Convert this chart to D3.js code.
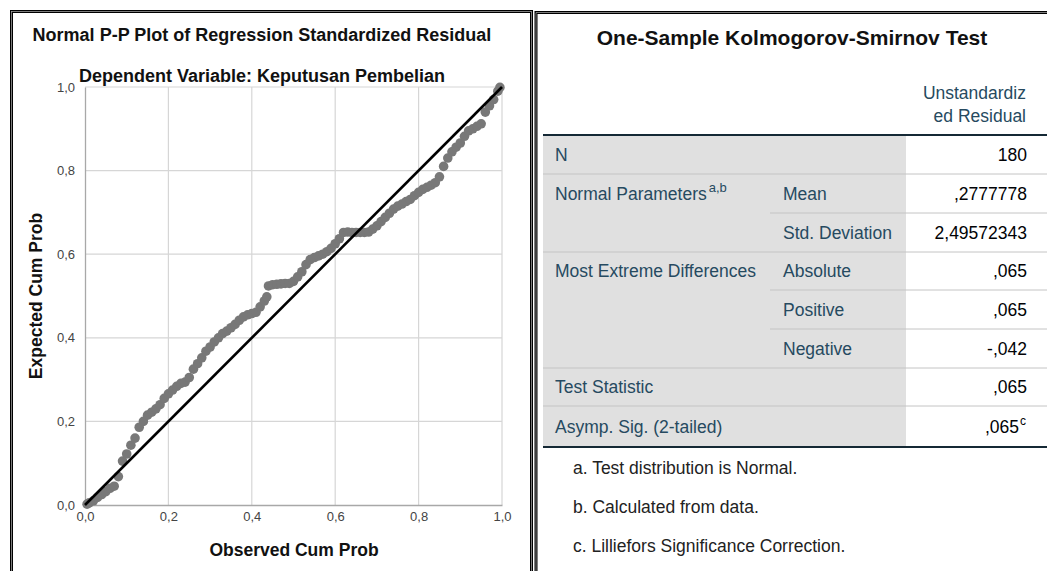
<!DOCTYPE html>
<html>
<head>
<meta charset="utf-8">
<script src="https://cdn.jsdelivr.net/npm/d3@7"></script>
<style>
  body { margin: 0; background: #fff; }
  svg { display: block; font-family: "Liberation Sans", Arial, sans-serif; }
</style>
</head>
<body>
<svg id="chart" width="1047" height="571"></svg>
<script>
// ---- P-P plot data ----
const observedProb = [0.005, 0.01, 0.02, 0.03, 0.04, 0.05, 0.06, 0.07, 0.08, 0.09, 0.10,
  0.11, 0.12, 0.13, 0.14, 0.15, 0.16, 0.17, 0.18, 0.19, 0.20,
  0.21, 0.22, 0.23, 0.24, 0.25, 0.26, 0.27, 0.28, 0.29, 0.30,
  0.31, 0.32, 0.33, 0.34, 0.35, 0.36, 0.37, 0.38, 0.39, 0.40,
  0.41, 0.42, 0.43, 0.436, 0.44, 0.45, 0.46, 0.47, 0.48, 0.49, 0.50,
  0.51, 0.52, 0.53, 0.54, 0.55, 0.56, 0.57, 0.58, 0.59, 0.60,
  0.61, 0.62, 0.63, 0.64, 0.65, 0.66, 0.67, 0.68, 0.69, 0.70,
  0.71, 0.72, 0.73, 0.74, 0.75, 0.76, 0.77, 0.78, 0.79, 0.80,
  0.81, 0.82, 0.83, 0.84, 0.85, 0.86, 0.87, 0.88, 0.89, 0.90,
  0.91, 0.92, 0.93, 0.94, 0.95, 0.96, 0.97, 0.98, 0.99, 0.995];
const expectedProb = [0.002, 0.005, 0.01, 0.018, 0.025, 0.032, 0.04, 0.045, 0.068, 0.105, 0.122,
  0.143, 0.16, 0.186, 0.2, 0.215, 0.222, 0.23, 0.24, 0.255, 0.266,
  0.275, 0.284, 0.291, 0.294, 0.305, 0.325, 0.338, 0.352, 0.368, 0.378,
  0.39, 0.4, 0.41, 0.416, 0.424, 0.432, 0.442, 0.45, 0.455, 0.458,
  0.461, 0.474, 0.488, 0.498, 0.524, 0.527, 0.528, 0.529, 0.53, 0.53, 0.535,
  0.546, 0.558, 0.575, 0.587, 0.592, 0.596, 0.6, 0.606, 0.614, 0.625,
  0.637, 0.652, 0.653, 0.652, 0.652, 0.652, 0.652, 0.653, 0.66, 0.668,
  0.678, 0.688, 0.698, 0.708, 0.715, 0.72, 0.726, 0.731, 0.74, 0.748,
  0.755, 0.76, 0.765, 0.771, 0.785, 0.81, 0.83, 0.845, 0.856, 0.866,
  0.882, 0.895, 0.9, 0.906, 0.912, 0.94, 0.955, 0.97, 0.99, 0.999];
const tickValues = [0, 0.2, 0.4, 0.6, 0.8, 1.0];

// ---- K-S test table ----
const tableTitle = "One-Sample Kolmogorov-Smirnov Test";
const columnHeader = ["Unstandardiz", "ed Residual"];
const rowLabels = ["N", "Normal Parameters", "", "Most Extreme Differences", "", "", "Test Statistic", "Asymp. Sig. (2-tailed)"];
const rowLabelSup = ["", "a,b", "", "", "", "", "", ""];
const subLabels = ["", "Mean", "Std. Deviation", "Absolute", "Positive", "Negative", "", ""];
const cellValues = ["180", ",2777778", "2,49572343", ",065", ",065", "-,042", ",065", ",065"];
const cellSup = ["", "", "", "", "", "", "", "c"];
const footnotes = ["a. Test distribution is Normal.", "b. Calculated from data.", "c. Lilliefors Significance Correction."];

const svg = d3.select("#chart");

// ---------- left panel ----------
svg.append("rect").attr("x", 11.5).attr("y", 11.5).attr("width", 520).attr("height", 620)
  .attr("fill", "none").attr("stroke", "#000").attr("stroke-width", 3);
svg.append("rect").attr("x", 11.5).attr("y", 11.5).attr("width", 520).attr("height", 620)
  .attr("fill", "none").attr("stroke", "#999").attr("stroke-width", 0.8);

const x = d3.scaleLinear().domain([0, 1]).range([85, 502]);
const y = d3.scaleLinear().domain([0, 1]).range([505, 87]);
const fmt = d3.formatLocale({decimal: ",", thousands: ".", grouping: [3], currency: ["", ""]}).format(".1f");

const plot = svg.append("g");

// grid
plot.selectAll(".gx").data(tickValues.slice(1)).join("line")
  .attr("x1", d => x(d)).attr("x2", d => x(d)).attr("y1", y(0)).attr("y2", y(1))
  .attr("stroke", "#d6d6d6").attr("stroke-width", 1.2);
plot.selectAll(".gy").data(tickValues.slice(1)).join("line")
  .attr("x1", x(0)).attr("x2", x(1)).attr("y1", d => y(d)).attr("y2", d => y(d))
  .attr("stroke", "#d6d6d6").attr("stroke-width", 1.2);

// axes
const xAxis = plot.append("g").attr("transform", `translate(0,${y(0)})`)
  .call(d3.axisBottom(x).tickValues(tickValues).tickFormat(fmt).tickSize(0).tickPadding(7));
const yAxis = plot.append("g").attr("transform", `translate(${x(0)},0)`)
  .call(d3.axisLeft(y).tickValues(tickValues).tickFormat(fmt).tickSize(0).tickPadding(10));
[xAxis, yAxis].forEach(a => {
  a.attr("font-size", null).attr("font-family", null);
  a.select(".domain").attr("stroke", "#a8a8a8").attr("stroke-width", 1.3);
  a.selectAll("text").style("font-size", "13px").style("font-family", "Liberation Sans, Arial, sans-serif")
    .attr("fill", "#444");
});

// points
const pts = observedProb.map((o, i) => ({o: o, e: expectedProb[i]}));
plot.selectAll(".pt").data(pts).join("circle")
  .attr("cx", d => x(d.o)).attr("cy", d => y(d.e)).attr("r", 4.8)
  .attr("fill", "#787878");

// reference line
plot.append("line")
  .attr("x1", x(0)).attr("y1", y(0)).attr("x2", x(1)).attr("y2", y(1))
  .attr("stroke", "#000").attr("stroke-width", 2.6);

// titles
svg.append("text").attr("x", 262).attr("y", 41).attr("text-anchor", "middle")
  .attr("font-size", 18).attr("font-weight", "bold").attr("fill", "#111")
  .text("Normal P-P Plot of Regression Standardized Residual");
svg.append("text").attr("x", 262).attr("y", 82).attr("text-anchor", "middle")
  .attr("font-size", 18).attr("font-weight", "bold").attr("fill", "#111")
  .text("Dependent Variable: Keputusan Pembelian");
svg.append("text").attr("x", 294).attr("y", 556).attr("text-anchor", "middle")
  .attr("font-size", 17.5).attr("font-weight", "bold").attr("fill", "#111")
  .text("Observed Cum Prob");
svg.append("text").attr("transform", "translate(42,296) rotate(-90)").attr("text-anchor", "middle")
  .attr("font-size", 17.5).attr("font-weight", "bold").attr("fill", "#111")
  .text("Expected Cum Prob");

// ---------- right panel ----------
svg.append("path").attr("d", "M536,640V12.5H1060")
  .attr("fill", "none").attr("stroke", "#000").attr("stroke-width", 3);
svg.append("path").attr("d", "M536,640V12.5H1060")
  .attr("fill", "none").attr("stroke", "#999").attr("stroke-width", 0.8);

const tX0 = 543, tX1 = 1047, subX = 770, valX = 906;
const rowEdges = [135, 174, 213, 252, 290, 329, 368, 406, 447];
const lineFrom = [tX0, subX, tX0, subX, subX, tX0, tX0, tX0];
const labelColor = "#264a60", valueColor = "#010205";
const fs = 17.5;

svg.append("text").attr("x", 792).attr("y", 45).attr("text-anchor", "middle")
  .attr("font-size", 21).attr("font-weight", "bold").attr("fill", "#111").text(tableTitle);

svg.selectAll(".hdr").data(columnHeader).join("text")
  .attr("x", 1026).attr("y", (d, i) => 99 + i * 23).attr("text-anchor", "end")
  .attr("font-size", fs).attr("fill", labelColor).text(d => d);

// row backgrounds
svg.append("rect").attr("x", tX0).attr("y", rowEdges[0]).attr("width", valX - tX0)
  .attr("height", rowEdges[8] - rowEdges[0]).attr("fill", "#e0e0e0");

const rows = svg.append("g");
rowLabels.forEach((lab, i) => {
  const cy = (rowEdges[i] + rowEdges[i + 1]) / 2 + 6;
  if (lab) {
    const t = rows.append("text").attr("x", 555).attr("y", cy).attr("font-size", fs).attr("fill", labelColor).text(lab);
    if (rowLabelSup[i]) t.append("tspan").attr("dx", 2).attr("dy", -8).attr("font-size", 13).text(rowLabelSup[i]);
  }
  if (subLabels[i]) rows.append("text").attr("x", 783).attr("y", cy).attr("font-size", fs).attr("fill", labelColor).text(subLabels[i]);
  rows.append("text").attr("x", cellSup[i] ? 1019 : 1027).attr("y", cy).attr("text-anchor", "end")
    .attr("font-size", fs).attr("fill", valueColor).text(cellValues[i]);
  if (cellSup[i]) rows.append("text").attr("x", 1020).attr("y", cy - 8).attr("font-size", 12).attr("fill", valueColor).text(cellSup[i]);
  // separator below row
  if (i < rowLabels.length - 1) {
    rows.append("line").attr("x1", lineFrom[i]).attr("x2", tX1).attr("y1", rowEdges[i + 1]).attr("y2", rowEdges[i + 1])
      .attr("stroke", "#c4c4c4").attr("stroke-width", 1);
  }
});

// heavy rules
[rowEdges[0], rowEdges[8]].forEach(yy => {
  svg.append("line").attr("x1", tX0).attr("x2", tX1).attr("y1", yy).attr("y2", yy)
    .attr("stroke", "#152935").attr("stroke-width", 2);
});

svg.selectAll(".fn").data(footnotes).join("text")
  .attr("x", 573).attr("y", (d, i) => 474 + i * 39.2)
  .attr("font-size", fs).attr("fill", "#222").text(d => d);
</script>
</body>
</html>
